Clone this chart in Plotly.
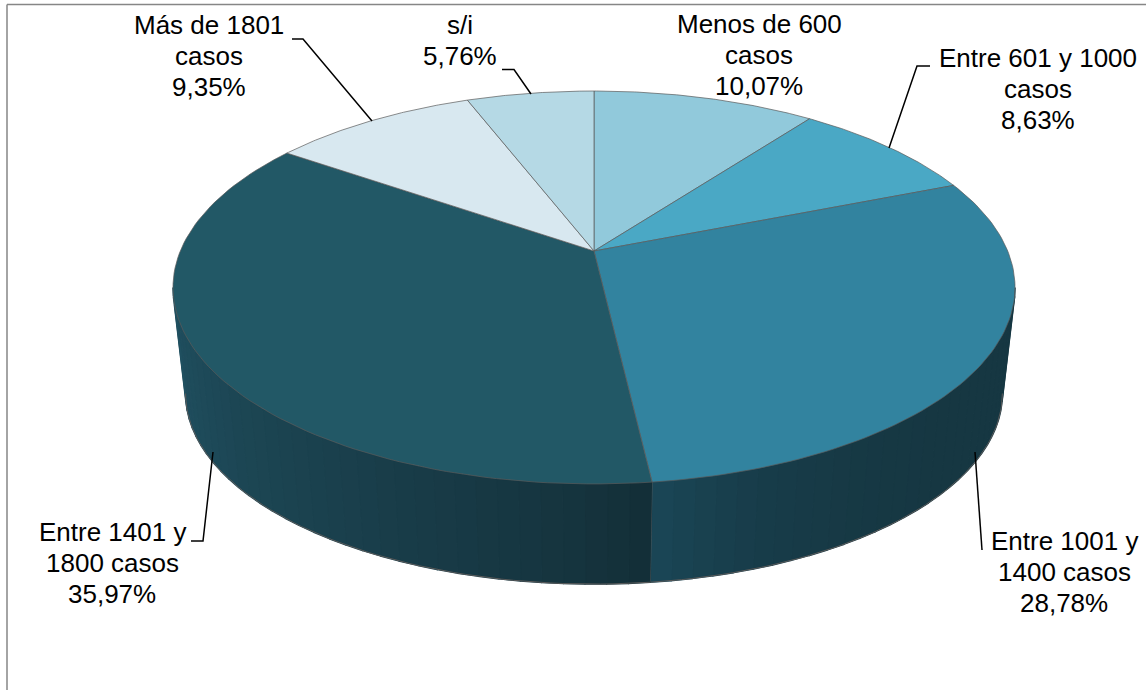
import numpy as np
import plotly.graph_objects as go

# ---- data ----
categories = ["Menos de 600 casos", "Entre 601 y 1000 casos", "Entre 1001 y 1400 casos",
              "Entre 1401 y 1800 casos", "Más de 1801 casos", "s/i"]
percentages = [10.07, 8.63, 28.78, 35.97, 9.35, 5.76]
label_lines = [["Menos de 600", "casos"], ["Entre 601 y 1000", "casos"], ["Entre 1001 y", "1400 casos"],
               ["Entre 1401 y", "1800 casos"], ["Más de 1801", "casos"], ["s/i"]]

# ---- styles ----
top_colors = ["#91C9DB", "#4AA8C5", "#32839F", "#225866", "#D8E8F0", "#B5D9E5"]
wall_colors = [("#91C9DB", "#91C9DB"), ("#4AA8C5", "#4AA8C5"), ("#163742", "#1A4657"),
               ("#132E37", "#205060"), ("#D8E8F0", "#D8E8F0"), ("#B5D9E5", "#B5D9E5")]
wall_gamma = [1, 1, 5, 0.8, 1, 1]
label_pos = [(759, 24), (1038, 58), (1064, 541), (112, 532), (209, 25), (460, 25)]
leaders = [None,
           ([930, 917, 889], [66, 66, 148]),
           ([975, 982], [452, 550]),
           ([191, 203, 213], [541, 541, 452]),
           ([292, 303, 372], [39, 39, 121]),
           ([502, 514, 531], [69.5, 69.5, 94])]
FONT = "Liberation Sans, Arial, sans-serif"
FONT_SIZE = 26
LINE_H = 31
EDGE = "#5A5A5A"

# ---- perspective projection of the pie ----
CX, CY, A, B, K = 594.0, 251.0, 413.7, 189.7, 0.1857
ELL_Y, SCALE, DROP = 287.5, 0.97, 106.0


def top_xy(theta):
    u, v = np.sin(theta), np.cos(theta)
    w = 1 + K * v
    return CX + A * u / w, CY - B * v / w


def base_xy(theta):
    x, y = top_xy(theta)
    return CX + (x - CX) * SCALE, ELL_Y + (y - ELL_Y) * SCALE + DROP


def hex_rgb(h):
    return np.array([int(h[i:i + 2], 16) for i in (1, 3, 5)], dtype=float)


def mix(c1, c2, t):
    r, g, b = (hex_rgb(c1) * (1 - t) + hex_rgb(c2) * t).round().astype(int)
    return f"rgb({r},{g},{b})"


vals = np.array(percentages)
edges = np.concatenate([[0], np.cumsum(vals) / vals.sum() * 2 * np.pi])
# visible part of the wall: between the left and right silhouette tangents
VIS_LO, VIS_HI = np.arccos(-K), 2 * np.pi - np.arccos(-K)

fig = go.Figure()

# side wall, as narrow gradient strips per slice
for i, cat in enumerate(categories):
    lo, hi = max(edges[i], VIS_LO), min(edges[i + 1], VIS_HI)
    if hi <= lo:
        continue
    n = max(int(np.degrees(hi - lo) / 2.5), 1)
    steps = np.linspace(lo, hi, n + 1)
    for j in range(n):
        tt = np.linspace(steps[j], steps[j + 1], 4)
        xt, yt = top_xy(tt)
        xb, yb = base_xy(tt[::-1])
        col = mix(*wall_colors[i], ((j + 0.5) / n) ** wall_gamma[i])
        fig.add_trace(go.Scatter(x=np.r_[xt, xb], y=np.r_[yt, yb], mode="lines", fill="toself",
                                 fillcolor=col, line=dict(color=col, width=1.6),
                                 hoverinfo="skip", showlegend=False))
    # wall lower edge
    tt = np.linspace(lo, hi, 60)
    xb, yb = base_xy(tt)
    fig.add_trace(go.Scatter(x=xb, y=yb, mode="lines", line=dict(color=EDGE, width=1),
                             hoverinfo="skip", showlegend=False))
    # wall divider between slices
    if VIS_LO < edges[i + 1] < VIS_HI:
        xt, yt = top_xy(edges[i + 1])
        xb, yb = base_xy(edges[i + 1])
        fig.add_trace(go.Scatter(x=[xt, xb], y=[yt, yb], mode="lines", line=dict(color=EDGE, width=0.8),
                                 hoverinfo="skip", showlegend=False))

# top face slices
for i, cat in enumerate(categories):
    tt = np.linspace(edges[i], edges[i + 1], 90)
    x, y = top_xy(tt)
    fig.add_trace(go.Scatter(x=np.r_[CX, x, CX], y=np.r_[CY, y, CY], mode="lines", fill="toself",
                             fillcolor=top_colors[i], line=dict(color=EDGE, width=0.7),
                             name=cat, text=f"{cat}: {percentages[i]:.2f}%".replace(".", ","),
                             hoverinfo="text", showlegend=False))

# leader lines
for ld in leaders:
    if ld:
        fig.add_trace(go.Scatter(x=ld[0], y=ld[1], mode="lines", line=dict(color="#000000", width=1.5),
                                 hoverinfo="skip", showlegend=False))

# labels
for i, lines in enumerate(label_lines):
    all_lines = lines + [f"{percentages[i]:.2f}%".replace(".", ",")]
    lx, ly = label_pos[i]
    for k, t in enumerate(all_lines):
        fig.add_annotation(x=lx, y=ly + k * LINE_H, text=t, showarrow=False, xanchor="center",
                           yanchor="middle", font=dict(family=FONT, size=FONT_SIZE, color="#000000"))

# chart frame (top and left edges of the outer border)
fig.add_shape(type="line", x0=7, x1=1146, y0=4.5, y1=4.5, line=dict(color="#868686", width=1.5))
fig.add_shape(type="line", x0=7, x1=7, y0=4.5, y1=690, line=dict(color="#868686", width=1.5))

fig.update_layout(width=1146, height=690, margin=dict(l=0, r=0, t=0, b=0),
                  paper_bgcolor="#FFFFFF", plot_bgcolor="#FFFFFF", showlegend=False,
                  xaxis=dict(range=[0, 1146], visible=False, fixedrange=True),
                  yaxis=dict(range=[690, 0], visible=False, fixedrange=True))

fig.write_html("out.html", post_script="document.body.style.margin='0';document.body.style.overflow='hidden';",
               config={"displayModeBar": False})
